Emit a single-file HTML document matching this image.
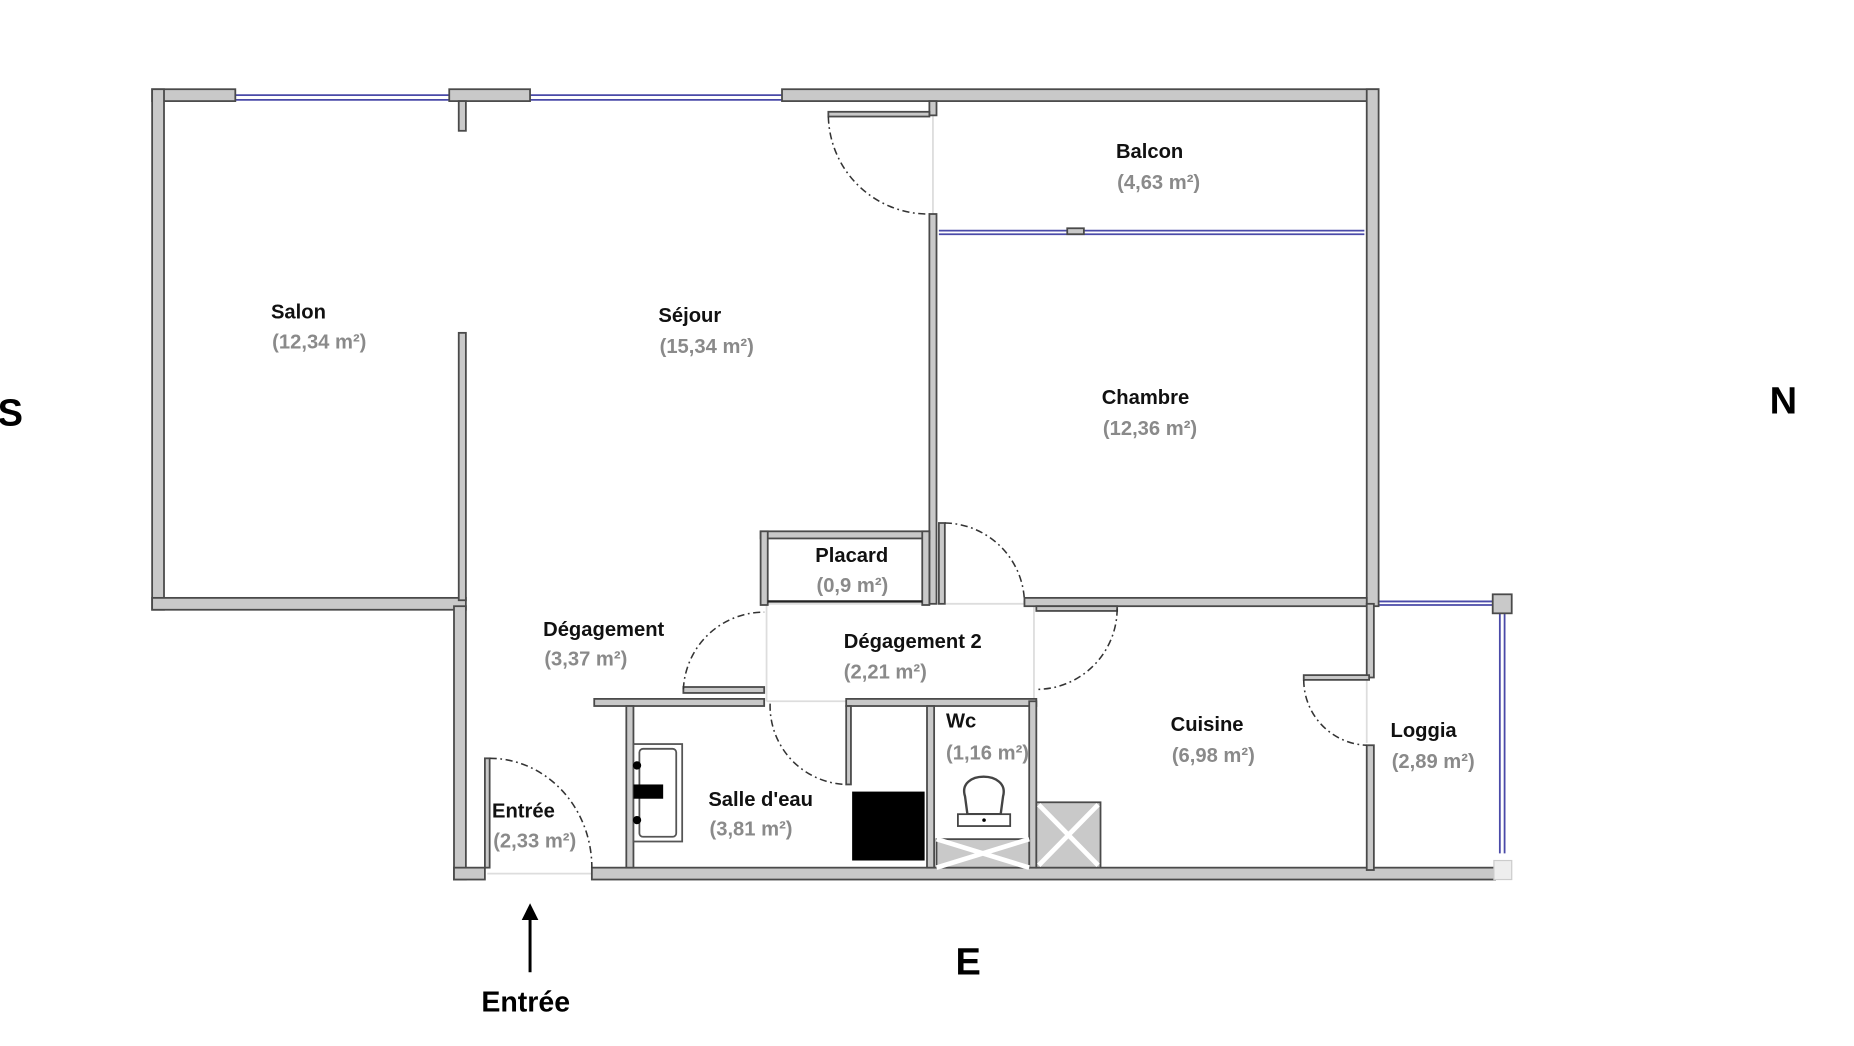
<!DOCTYPE html>
<html><head><meta charset="utf-8"><style>
html,body{margin:0;padding:0;background:#fff;}
svg{display:block;}
text{font-family:"Liberation Sans",sans-serif;font-weight:bold;}
.n{font-size:17px;fill:#111;}
.a{font-size:17px;fill:#8a8a8a;}
.w{fill:#c9c9c9;stroke:#4a4a4a;stroke-width:1.5;}
.d{fill:none;stroke:#333;stroke-width:1.3;stroke-dasharray:6 3 1.5 3;}
.g{fill:none;stroke:#ddd;stroke-width:1.5;}
.b{stroke:#4a4aa8;stroke-width:1.5;}
</style></head><body>
<svg width="1854" height="1046" viewBox="0 0 1560 880" xmlns="http://www.w3.org/2000/svg">
<rect width="1560" height="880" fill="#fff"/>
<!-- light guide lines -->
<path class="g" d="M645 508 H870 M645 590 H870 M645 508 V590 M870 508 V590 M785 85 V190 M410 735 H498 M1150 570 V625"/>
<!-- windows -->
<path class="b" d="M198 80 H378 M198 84 H378 M446 80 H658 M446 84 H658 M790 194 H1148 M790 197 H1148 M1156 506 H1260 M1156 509 H1260 M1262 514 V718 M1266 514 V718"/>
<!-- walls -->
<rect class="w" x="128" y="75" width="70" height="10"/>
<rect class="w" x="378" y="75" width="68" height="10"/>
<rect class="w" x="386" y="85" width="6" height="25"/>
<rect class="w" x="658" y="75" width="502" height="10"/>
<rect class="w" x="128" y="75" width="10" height="438"/>
<rect class="w" x="128" y="503" width="264" height="10"/>
<rect class="w" x="386" y="280" width="6" height="225"/>
<rect class="w" x="382" y="510" width="10" height="230"/>
<rect class="w" x="382" y="730" width="26" height="10"/>
<rect class="w" x="498" y="730" width="760" height="10"/>
<rect class="w" x="1150" y="75" width="10" height="435"/>
<rect class="w" x="782" y="85" width="6" height="12"/>
<rect class="w" x="782" y="180" width="6" height="328"/>
<rect class="w" x="697" y="94" width="85" height="4"/>
<rect class="w" x="898" y="192" width="14" height="5"/>
<!-- placard -->
<rect class="w" x="640" y="447" width="142" height="6"/>
<rect class="w" x="640" y="447" width="6" height="62"/>
<rect class="w" x="776" y="447" width="6" height="62"/>
<path d="M646 506 H776" stroke="#222" stroke-width="2"/>
<!-- chambre door -->
<rect class="w" x="790" y="440" width="5" height="68"/>
<path class="d" d="M795 440 A68 68 0 0 1 862 507"/>
<rect class="w" x="862" y="503" width="288" height="7"/>
<rect class="w" x="872" y="510" width="68" height="4"/>
<path class="d" d="M940 512 A68 68 0 0 1 872 580"/>
<!-- top door -->
<path class="d" d="M697 98 A84 84 0 0 0 782 180"/>
<!-- degagement door -->
<rect class="w" x="575" y="578" width="68" height="5"/>
<path class="d" d="M575 580 A68 68 0 0 1 643 515"/>
<!-- salle d'eau -->
<rect class="w" x="500" y="588" width="143" height="6"/>
<rect class="w" x="712" y="588" width="160" height="6"/>
<rect class="w" x="527" y="594" width="6" height="136"/>
<rect class="w" x="712" y="594" width="4" height="66"/>
<path class="d" d="M648 592 A66 66 0 0 0 712 660"/>
<rect class="w" x="780" y="594" width="6" height="136"/>
<rect class="w" x="866" y="590" width="6" height="140"/>
<rect x="717" y="666" width="61" height="58" fill="#000"/>
<!-- sink -->
<rect x="533" y="626" width="41" height="82" fill="#fff" stroke="#555" stroke-width="1.5"/>
<rect x="538" y="630" width="31" height="74" rx="3" fill="#fff" stroke="#555" stroke-width="1.5"/>
<rect x="533" y="660" width="25" height="12" fill="#000"/>
<circle cx="536" cy="644" r="3.5" fill="#000"/><circle cx="536" cy="690" r="3.5" fill="#000"/>
<!-- toilet -->
<path d="M812 670 C805 648 850 648 844 670 L842 685 H814 Z" fill="#fff" stroke="#444" stroke-width="2"/>
<rect x="806" y="685" width="44" height="10" fill="#fff" stroke="#444" stroke-width="1.5"/>
<circle cx="828" cy="690" r="1.5" fill="#000"/>
<!-- crossed boxes -->
<rect class="w" x="788" y="706" width="78" height="24"/>
<path d="M788 706 L866 730 M788 730 L866 706" stroke="#fff" stroke-width="4"/>
<rect class="w" x="872" y="675" width="54" height="55"/>
<path d="M874 677 L924 728 M874 728 L924 677" stroke="#fff" stroke-width="4"/>
<!-- cuisine/loggia -->
<rect class="w" x="1150" y="508" width="6" height="62"/>
<rect class="w" x="1150" y="627" width="6" height="105"/>
<rect class="w" x="1097" y="568" width="55" height="4"/>
<path class="d" d="M1097 572 A55 55 0 0 0 1150 627"/>
<rect class="w" x="1256" y="500" width="16" height="16"/>
<rect x="1257" y="724" width="15" height="16" fill="#eee" stroke="#ccc"/>
<!-- entree door -->
<rect class="w" x="408" y="638" width="4" height="92"/>
<path class="d" d="M412 638 A86 92 0 0 1 498 730"/>
<!-- labels -->
<text class="n" x="228" y="268">Salon</text><text class="a" x="229" y="293">(12,34 m²)</text>
<text class="n" x="554" y="271">Séjour</text><text class="a" x="555" y="297">(15,34 m²)</text>
<text class="n" x="939" y="133">Balcon</text><text class="a" x="940" y="159">(4,63 m²)</text>
<text class="n" x="927" y="340">Chambre</text><text class="a" x="928" y="366">(12,36 m²)</text>
<text class="n" x="686" y="473">Placard</text><text class="a" x="687" y="498">(0,9 m²)</text>
<text class="n" x="457" y="535">Dégagement</text><text class="a" x="458" y="560">(3,37 m²)</text>
<text class="n" x="710" y="545">Dégagement 2</text><text class="a" x="710" y="571">(2,21 m²)</text>
<text class="n" x="796" y="612">Wc</text><text class="a" x="796" y="639">(1,16 m²)</text>
<text class="n" x="985" y="615">Cuisine</text><text class="a" x="986" y="641">(6,98 m²)</text>
<text class="n" x="1170" y="620">Loggia</text><text class="a" x="1171" y="646">(2,89 m²)</text>
<text class="n" x="596" y="678">Salle d'eau</text><text class="a" x="597" y="703">(3,81 m²)</text>
<text class="n" x="414" y="688">Entrée</text><text class="a" x="415" y="713">(2,33 m²)</text>
<text x="-2" y="358" style="font-size:32px" fill="#000">S</text>
<text x="1489" y="348" style="font-size:32px" fill="#000">N</text>
<text x="804" y="820" style="font-size:32px" fill="#000">E</text>
<path d="M446 818 V770" stroke="#000" stroke-width="2.5"/>
<path d="M439 774 L446 760 L453 774 Z" fill="#000"/>
<text x="405" y="851" style="font-size:24px" fill="#000">Entrée</text>
</svg>
</body></html>
